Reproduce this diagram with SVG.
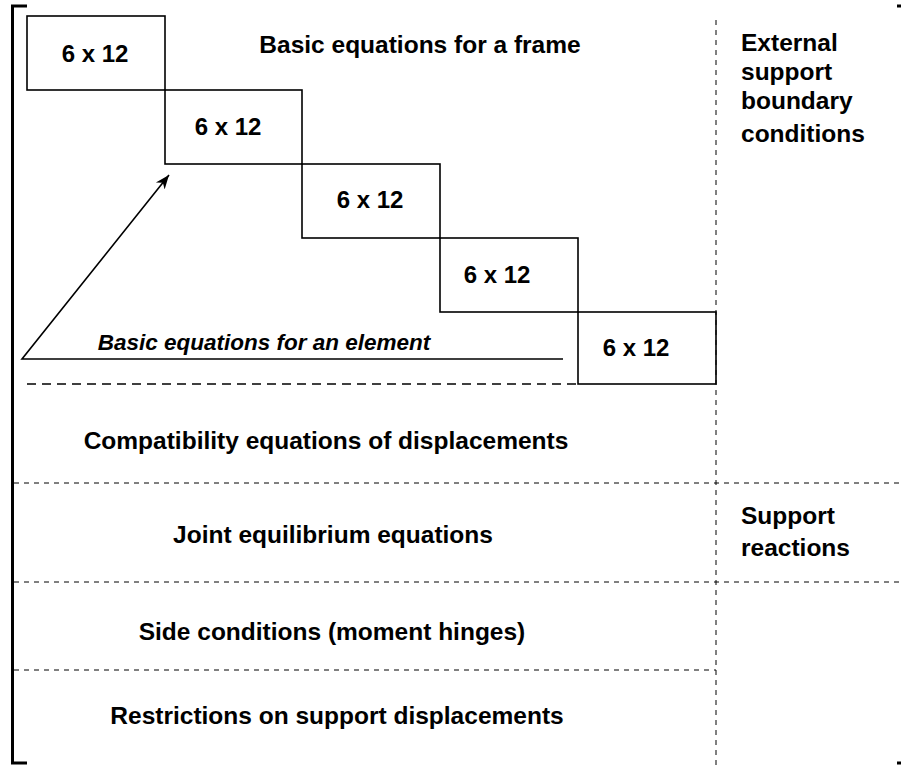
<svg xmlns="http://www.w3.org/2000/svg" width="901" height="765" viewBox="0 0 901 765">
<defs>
<style>
.box{fill:none;stroke:#000;stroke-width:1.6}
.lbl{font-family:"Liberation Sans",Arial,sans-serif;font-weight:bold;font-size:24.5px;fill:#000}
.num{font-family:"Liberation Sans",Arial,sans-serif;font-weight:bold;font-size:24px;fill:#000;text-anchor:middle}
.mid{text-anchor:middle}
.thin{fill:none;stroke:#000;stroke-width:1;stroke-dasharray:5,5}
</style>
<marker id="ah" viewBox="0 0 10 10" refX="10" refY="5" markerWidth="14" markerHeight="14" markerUnits="userSpaceOnUse" orient="auto">
<path d="M0,1 L10,5 L0,9 L3,5 Z" fill="#000"/>
</marker>
</defs>
<rect width="901" height="765" fill="#fff"/>
<g id="brackets" fill="none" stroke="#000" stroke-width="3">
<path d="M27,6 H12.5 V763 H27"/>
<path d="M897,6 H903 V763 H897"/>
</g>
<g id="connectors">
<line x1="716" y1="20" x2="716" y2="765" class="thin"/>
<line x1="27" y1="384" x2="578" y2="384" fill="none" stroke="#000" stroke-width="1.6" stroke-dasharray="9,6"/>
<line x1="14" y1="483" x2="901" y2="483" class="thin" stroke-dasharray="4,4"/>
<line x1="14" y1="582" x2="901" y2="582" class="thin" stroke-dasharray="4,4"/>
<line x1="14" y1="670" x2="716" y2="670" class="thin" stroke-dasharray="4,4"/>
<polyline points="563,359 22,359 169,175" fill="none" stroke="#000" stroke-width="1.6" marker-end="url(#ah)"/>
</g>
<g id="box1"><rect class="box" x="27" y="16" width="138" height="74"/><text class="num" x="95" y="62">6 x 12</text></g>
<g id="box2"><rect class="box" x="165" y="90" width="137" height="74"/><text class="num" x="228" y="135">6 x 12</text></g>
<g id="box3"><rect class="box" x="302" y="164" width="138" height="74"/><text class="num" x="370" y="208">6 x 12</text></g>
<g id="box4"><rect class="box" x="440" y="238" width="138" height="74"/><text class="num" x="497" y="283">6 x 12</text></g>
<g id="box5"><rect class="box" x="578" y="312" width="138" height="72"/><text class="num" x="636" y="356">6 x 12</text></g>
<g id="title"><text class="lbl mid" x="420" y="53">Basic equations for a frame</text></g>
<g id="element"><text x="264" y="350" font-family="'Liberation Sans',Arial,sans-serif" font-weight="bold" font-style="italic" font-size="22.5" text-anchor="middle">Basic equations for an element</text></g>
<g id="compat"><text class="lbl mid" x="326" y="449" font-size="25.8">Compatibility equations of displacements</text></g>
<g id="joint"><text class="lbl mid" x="333" y="543">Joint equilibrium equations</text></g>
<g id="side"><text class="lbl mid" x="332" y="640" font-size="25.8">Side conditions (moment hinges)</text></g>
<g id="restr"><text class="lbl mid" x="337" y="724">Restrictions on support displacements</text></g>
<g id="external"><text class="lbl" x="741" y="51"><tspan x="741" y="51">External</tspan><tspan x="741" y="80">support</tspan><tspan x="741" y="109">boundary</tspan><tspan x="741" y="142">conditions</tspan></text></g>
<g id="reactions"><text class="lbl" x="741" y="524"><tspan x="741" y="524">Support</tspan><tspan x="741" y="556">reactions</tspan></text></g>
</svg>
